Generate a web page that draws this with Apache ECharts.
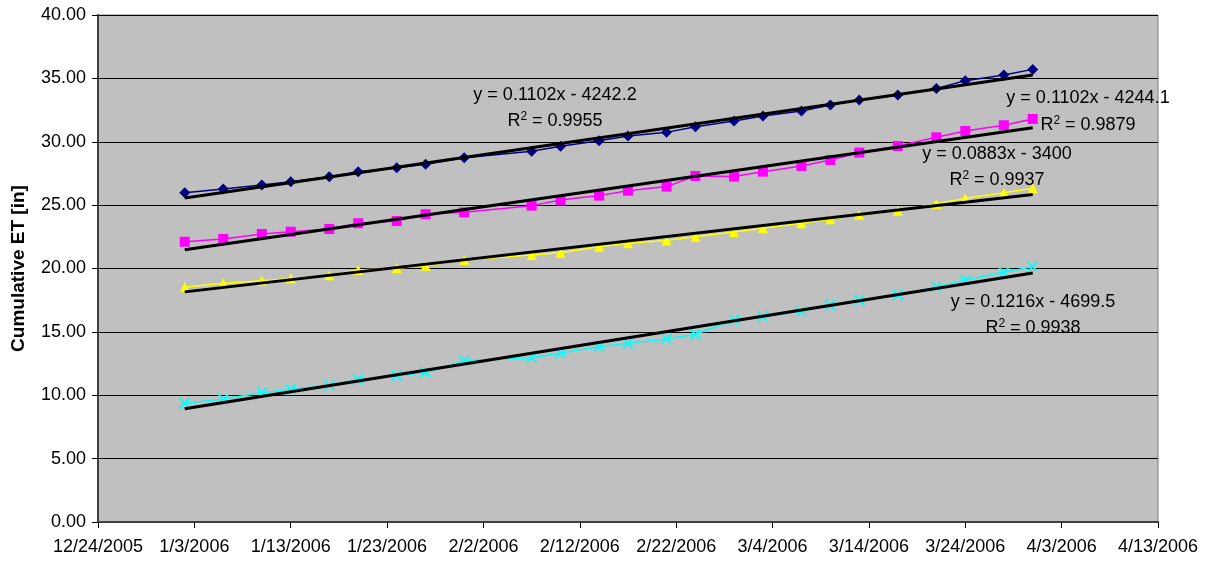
<!DOCTYPE html>
<html><head><meta charset="utf-8">
<script src="https://cdn.jsdelivr.net/npm/echarts@6/dist/echarts.min.js"></script>
<style>html,body{margin:0;padding:0;background:#fff}#c{width:1209px;height:564px}</style>
</head><body><div id="c"></div>
<script>
const dates = ['1/2/2006','1/6/2006','1/10/2006','1/13/2006','1/17/2006','1/20/2006','1/24/2006','1/27/2006','1/31/2006','2/7/2006','2/10/2006','2/14/2006','2/17/2006','2/21/2006','2/24/2006','2/28/2006','3/3/2006','3/7/2006','3/10/2006','3/13/2006','3/17/2006','3/21/2006','3/24/2006','3/28/2006','3/31/2006'];
const seriesBlue   = [25.98,26.27,26.59,26.85,27.24,27.64,27.95,28.22,28.74,29.25,29.65,30.07,30.45,30.74,31.19,31.64,32.03,32.42,32.90,33.29,33.69,34.21,34.82,35.27,35.71];
const seriesPink   = [22.11,22.33,22.72,22.90,23.12,23.57,23.75,24.28,24.43,24.96,25.40,25.75,26.14,26.46,27.30,27.25,27.64,28.09,28.56,29.14,29.66,30.35,30.85,31.30,31.80];
const seriesYellow = [18.52,18.83,19.04,19.22,19.46,19.88,20.01,20.22,20.67,21.07,21.25,21.72,21.99,22.20,22.51,22.88,23.17,23.57,23.88,24.25,24.56,25.09,25.54,25.98,26.33];
const seriesCyan   = [9.36,9.70,10.20,10.47,10.78,11.26,11.54,11.80,12.72,12.96,13.33,13.83,14.10,14.44,14.81,15.94,16.20,16.62,17.12,17.51,17.91,18.57,19.09,19.70,20.14];
const trendLabels = [
  ['y = 0.1102x - 4242.2', '0.9955'],
  ['y = 0.1102x - 4244.1', '0.9879'],
  ['y = 0.0883x - 3400', '0.9937'],
  ['y = 0.1216x - 4699.5', '0.9938']
];
const xMinDate = '12/24/2005', xMaxDate = '4/13/2006';
const yTicks = [0,5,10,15,20,25,30,35,40];

const EPOCH = Date.UTC(1899,11,30);
function toSerial(s){const [m,d,y]=s.split('/').map(Number);return Math.round((Date.UTC(y,m-1,d)-EPOCH)/86400000);}
function fromSerial(n){const dt=new Date(EPOCH+n*86400000);return (dt.getUTCMonth()+1)+'/'+dt.getUTCDate()+'/'+dt.getUTCFullYear();}
const xs = dates.map(toSerial);
function pairs(v){return xs.map((x,i)=>[x,v[i]]);}
function trend(v){
  const n=xs.length;let sx=0,sy=0,sxx=0,sxy=0;
  for(let i=0;i<n;i++){sx+=xs[i];sy+=v[i];sxx+=xs[i]*xs[i];sxy+=xs[i]*v[i];}
  const b=(n*sxy-sx*sy)/(n*sxx-sx*sx), a=(sy-b*sx)/n;
  const x0=xs[0], x1=xs[n-1];
  return [[x0,a+b*x0],[x1,a+b*x1]];
}
const font = '"Liberation Sans", Arial, sans-serif';
const chart = echarts.init(document.getElementById('c'));
const dataSeries = [
  {v:seriesBlue, color:'#000080', symbol:'diamond', size:11},
  {v:seriesPink, color:'#FF00FF', symbol:'rect', size:10},
  {v:seriesYellow, color:'#FFFF00', symbol:'triangle', size:10},
  {v:seriesCyan, color:'#00FFFF', symbol:'path://M0,0L10,10M10,0L0,10', size:10}
];
const series = [];
dataSeries.forEach((s,i)=>{
  series.push({type:'line', data:pairs(s.v), symbol:s.symbol, symbolSize:s.size, showAllSymbol:true,
    lineStyle:{color:s.color,width:1.5}, itemStyle:{color: i===3?'none':s.color, borderColor:s.color, borderWidth: i===3?1.8:0},
    z:3, animation:false, emphasis:{disabled:true}});
});
dataSeries.forEach((s,i)=>{
  series.push({type:'line', data:trend(s.v), symbol:'none', lineStyle:{color:'#000',width:3}, z:4, animation:false, emphasis:{disabled:true}});
});
const labelPos = [
  {cx:555, eq:95, r2:121},
  {cx:1088, eq:98, r2:125},
  {cx:997, eq:154, r2:180},
  {cx:1033, eq:302, r2:328}
];
const graphic = [];
trendLabels.forEach((t,i)=>{
  graphic.push({type:'text', x:labelPos[i].cx, y:labelPos[i].eq, z:10,
    style:{text:t[0], font:'18px '+font, fill:'#000', align:'center', verticalAlign:'middle'}});
  graphic.push({type:'text', x:labelPos[i].cx, y:labelPos[i].r2, z:10,
    style:{text:'R{s|2} = '+t[1], font:'18px '+font, fill:'#000', align:'center', verticalAlign:'middle',
      rich:{s:{fontSize:12, fontFamily:font, verticalAlign:'top', padding:[0,0,9,0], fill:'#000'}}}});
});
chart.setOption({
  animation:false,
  textStyle:{fontFamily:font},
  grid:{left:98, right:51, top:15, bottom:42, show:true, backgroundColor:'#C0C0C0', borderColor:'#808080', borderWidth:1},
  xAxis:{type:'value', min:toSerial(xMinDate), max:toSerial(xMaxDate), interval:10,
    axisLine:{show:true, onZero:false, lineStyle:{color:'#404040', width:2}},
    axisTick:{show:true, length:6, lineStyle:{color:'#000'}},
    splitLine:{show:false},
    axisLabel:{formatter:v=>fromSerial(v), fontSize:18, color:'#000', margin:16, fontFamily:font}},
  yAxis:{type:'value', min:yTicks[0], max:yTicks[yTicks.length-1], interval:5,
    name:'Cumulative ET [in]', nameLocation:'middle', nameGap:70,
    nameTextStyle:{fontSize:19, fontWeight:'bold', color:'#000', fontFamily:font},
    axisLine:{show:true, lineStyle:{color:'#404040', width:2}},
    axisTick:{show:true, length:6, lineStyle:{color:'#000'}},
    splitLine:{show:true, lineStyle:{color:'#000', width:1}},
    axisLabel:{formatter:v=>v.toFixed(2), fontSize:18, color:'#000', margin:12, fontFamily:font}},
  series:series,
  graphic:graphic
});
</script></body></html>
